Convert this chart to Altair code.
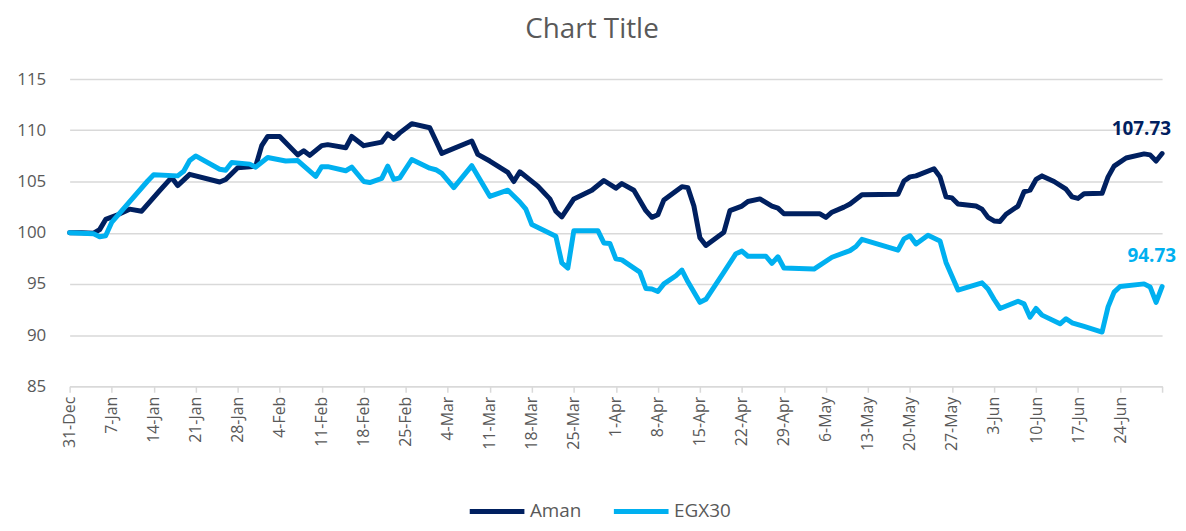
import altair as alt
import pandas as pd

# ---- data (day offsets from 31-Dec-2018, index values) ----
aman_days = [0, 2, 4, 5, 6, 8, 10, 12, 15, 17, 18, 20, 25, 26, 28, 31, 32, 33, 35, 38, 39, 40, 42, 43,
             46, 47, 49, 52, 53, 54, 55, 57, 60, 61, 62, 67, 68, 70, 73, 74, 75, 78, 80, 81, 82, 84, 87,
             89, 91, 92, 94, 96, 97, 98, 99, 102, 103, 104, 105, 106, 109, 110, 112, 113, 115, 117, 118,
             119, 125, 126, 127, 129, 130, 132, 138, 139, 140, 141, 144, 145, 146, 147, 148, 151, 152,
             153, 154, 155, 156, 158, 159, 160, 161, 162, 164, 166, 167, 168, 169, 172, 173, 174, 176,
             179, 180, 181, 182]
aman_vals = [100.0, 100.0, 99.95, 100.3, 101.3, 101.75, 102.3, 102.1, 104.1, 105.4, 104.6, 105.7, 104.95,
             105.2, 106.35, 106.5, 108.5, 109.4, 109.4, 107.6, 108.0, 107.55, 108.5, 108.6, 108.3, 109.4,
             108.5, 108.85, 109.65, 109.2, 109.75, 110.65, 110.25, 109.0, 107.75, 108.95, 107.65, 107.0,
             105.9, 105.0, 105.95, 104.55, 103.3, 102.1, 101.55, 103.3, 104.15, 105.1, 104.35, 104.8,
             104.15, 102.15, 101.5, 101.75, 103.2, 104.5, 104.4, 102.6, 99.5, 98.75, 100.05, 102.15,
             102.6, 103.05, 103.3, 102.6, 102.4, 101.85, 101.85, 101.5, 102.0, 102.5, 102.8, 103.7,
             103.75, 105.05, 105.45, 105.55, 106.25, 105.45, 103.5, 103.4, 102.8, 102.6, 102.3, 101.5,
             101.15, 101.1, 101.8, 102.6, 104.0, 104.15, 105.2, 105.55, 105.0, 104.25, 103.5, 103.35,
             103.8, 103.85, 105.45, 106.5, 107.3, 107.7, 107.6, 107.0, 107.73]

egx_days = [0, 4, 5, 6, 7, 13, 14, 18, 19, 20, 21, 25, 26, 27, 30, 31, 33, 36, 38, 41, 42, 43, 46, 47,
            49, 50, 52, 53, 54, 55, 57, 60, 61, 62, 64, 67, 70, 73, 75, 76, 77, 81, 82, 83, 84, 88, 89,
            90, 91, 92, 95, 96, 97, 98, 99, 101, 102, 103, 105, 106, 109, 111, 112, 113, 116, 117, 118,
            119, 124, 127, 130, 131, 132, 138, 139, 140, 141, 143, 145, 146, 148, 152, 153, 154, 155,
            158, 159, 160, 161, 162, 165, 166, 167, 169, 172, 173, 174, 175, 179, 180, 181, 182]
egx_vals = [100.0, 99.9, 99.6, 99.7, 101.0, 105.05, 105.65, 105.55, 106.0, 107.05, 107.5, 106.2, 106.1,
            106.85, 106.7, 106.4, 107.35, 107.0, 107.05, 105.5, 106.45, 106.45, 106.05, 106.4, 105.0,
            104.9, 105.3, 106.5, 105.2, 105.35, 107.15, 106.3, 106.15, 105.8, 104.4, 106.55, 103.55,
            104.15, 103.0, 102.3, 100.8, 99.65, 97.05, 96.55, 100.2, 100.2, 99.0, 98.95, 97.45, 97.35,
            96.15, 94.55, 94.5, 94.25, 95.0, 95.8, 96.35, 95.2, 93.2, 93.5, 96.15, 97.95, 98.2, 97.7,
            97.7, 97.0, 97.65, 96.55, 96.45, 97.6, 98.25, 98.65, 99.35, 98.3, 99.4, 99.7, 98.9, 99.75,
            99.2, 97.1, 94.4, 95.1, 94.5, 93.5, 92.6, 93.3, 93.05, 91.75, 92.6, 91.95, 91.1, 91.6, 91.2,
            90.85, 90.3, 92.75, 94.2, 94.75, 95.0, 94.7, 93.2, 94.73]

series_names = ["Aman", "EGX30"]
series_colors = ["#002060", "#00B0F0"]
start_date = "2018-12-31"
tick_step_days = 7
axis_end_day = 182

base = pd.Timestamp(start_date)


def to_dates(days):
    return [(base + pd.Timedelta(days=int(d))).strftime("%Y-%m-%d") for d in days]


df = pd.concat([
    pd.DataFrame({"date": to_dates(aman_days), "value": aman_vals, "series": series_names[0]}),
    pd.DataFrame({"date": to_dates(egx_days), "value": egx_vals, "series": series_names[1]}),
])

last = df.groupby("series").tail(1).copy()
last["label"] = last["value"].map(lambda v: f"{v:.2f}")


def ms(day):
    return int((base + pd.Timedelta(days=day)).value // 1_000_000)


tick_vals = [ms(d) for d in range(0, axis_end_day + 1, tick_step_days)] + [ms(axis_end_day)]
end_ms = ms(axis_end_day)

FONT = "Open Sans"
GREY = "#595959"
GRID = "#d9d9d9"

x_enc = alt.X(
    "date:T",
    scale=alt.Scale(type="utc", domain=[ms(0), end_ms], nice=False),
    axis=alt.Axis(
        title=None, values=tick_vals, labelAngle=-90, labelAlign="right", labelBaseline="middle",
        labelExpr=f"datum.value >= {end_ms} ? '' : utcFormat(datum.value, '%-d-%b')",
        labelFontSize=16, labelColor=GREY, labelFont=FONT, labelPadding=4,
        domainColor=GRID, domainWidth=1.5, tickColor=GRID, tickSize=6, tickWidth=1.5,
        grid=False, labelOverlap=False, labelFlush=False,
    ),
)
y_enc = alt.Y(
    "value:Q",
    scale=alt.Scale(domain=[85, 115], nice=False, zero=False),
    axis=alt.Axis(
        title=None, values=[85, 90, 95, 100, 105, 110, 115], labelFontSize=17, labelColor=GREY,
        labelFont=FONT, labelPadding=24, domain=False, ticks=False, gridColor=GRID, gridWidth=1.5,
    ),
)
color_enc = alt.Color(
    "series:N",
    scale=alt.Scale(domain=series_names, range=series_colors),
    legend=alt.Legend(
        title=None, orient="none", legendX=400, legendY=405, direction="horizontal",
        symbolType="stroke", symbolSize=3025, symbolStrokeWidth=5, labelFontSize=19,
        labelColor=GREY, labelFont=FONT, columnPadding=22, labelOffset=3,
    ),
)

lines = alt.Chart(df).mark_line(strokeWidth=5, strokeJoin="round", strokeCap="round").encode(
    x=x_enc, y=y_enc, color=color_enc, order="date:T"
)

lab_aman = alt.Chart(last[last["series"] == series_names[0]]).mark_text(
    align="right", baseline="middle", dx=9, dy=-25, fontSize=19, fontWeight="bold", font=FONT,
    color=series_colors[0],
).encode(x="date:T", y="value:Q", text="label:N")

lab_egx = alt.Chart(last[last["series"] == series_names[1]]).mark_text(
    align="right", baseline="middle", dx=14, dy=-31, fontSize=19, fontWeight="bold", font=FONT,
    color=series_colors[1],
).encode(x="date:T", y="value:Q", text="label:N")

chart = alt.layer(lines, lab_aman, lab_egx).properties(
    width=1099, height=309,
    title=alt.TitleParams("Chart Title", fontSize=28, color=GREY, font=FONT, fontWeight="normal",
                          anchor="middle", dx=-24, offset=26),
    autosize=alt.AutoSizeParams(type="none"),
    padding={"left": 62, "top": 70, "right": 16, "bottom": 138},
).configure_view(stroke=None)

chart.save("out.html", embed_options={"renderer": "svg", "actions": False})
